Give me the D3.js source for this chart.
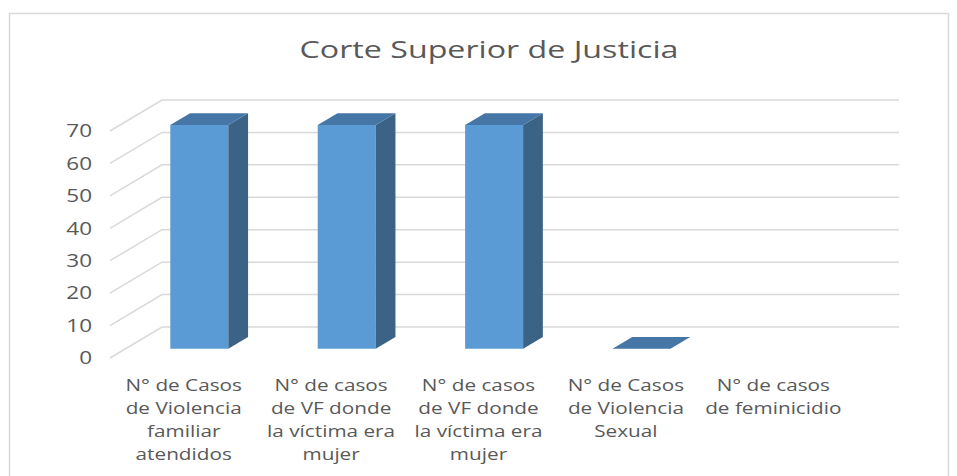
<!DOCTYPE html>
<html>
<head>
<meta charset="utf-8">
<script src="https://cdn.jsdelivr.net/npm/d3@7"></script>
<style>
  body { margin: 0; background: #fff; }
  text { font-family: "Open Sans", sans-serif; fill: #595959; }
</style>
</head>
<body>
<svg id="chart" width="957" height="476"></svg>
<script>
// data
const title = "Corte Superior de Justicia";
const categories = [
    ["N° de Casos", "de Violencia", "familiar", "atendidos"],
    ["N° de casos", "de VF donde", "la víctima era", "mujer"],
    ["N° de casos", "de VF donde", "la víctima era", "mujer"],
    ["N° de Casos", "de Violencia", "Sexual"],
    ["N° de casos", "de feminicidio"]
];
const values = [69, 69, 69, 0, null];
const yTicks = [0, 10, 20, 30, 40, 50, 60, 70];

const svg = d3.select("#chart");

// chart frame
svg.append("rect")
    .attr("x", 9.5).attr("y", 13.5)
    .attr("width", 939).attr("height", 480)
    .attr("fill", "#fff")
    .attr("stroke", "#d9d9d9")
    .attr("stroke-width", 1.5);

// the source text is drawn a bit wide, so stretch horizontally
svg.append("text")
    .attr("transform", "translate(489,58) scale(1.4,1)")
    .attr("text-anchor", "middle")
    .style("font-size", "23px")
    .text(title);

// fake 3d: depth shifts right and up
const depthX = 52, depthY = -31;
const zFront = 0.3, zBack = 0.68;

const x = d3.scaleBand()
    .domain(d3.range(categories.length))
    .range([110, 847]);

const y = d3.scaleLinear()
    .domain([0, 70])
    .range([358, 131]);

const proj = (px, v, z) => [px + z * depthX, y(v) + z * depthY];

// gridlines on back wall + side wall
const grid = svg.append("g")
    .attr("stroke", "#d9d9d9")
    .attr("stroke-width", 1.5)
    .attr("fill", "none");

yTicks.forEach(t => {
    const a = proj(110, t, 0), b = proj(110, t, 1), c = proj(847, t, 1);
    grid.append("polyline")
        .attr("points", [a, b, c].map(p => p.join(",")).join(" "));
});

// y tick labels
svg.append("g")
    .selectAll("text")
    .data(yTicks)
    .join("text")
    .attr("transform", d => `translate(92,${y(d)}) scale(1.25,1)`)
    .attr("dy", "0.35em")
    .attr("text-anchor", "end")
    .style("font-size", "18px")
    .text(d => d);

// bars
const barW = 58;
const colFront = "#5b9bd5", colSide = "#3b6386", colTop = "#4676a5";
const bars = svg.append("g")
    .selectAll("g")
    .data(values.map((v, i) => ({ v, i })).filter(d => d.v !== null))
    .join("g");

const pts = arr => arr.map(p => p.join(",")).join(" ");

bars.each(function(d) {
    const g = d3.select(this);
    const cx = x(d.i) + x.bandwidth() / 2;
    const xl = cx - barW / 2, xr = cx + barW / 2;
    // front face
    g.append("polygon")
        .attr("fill", colFront)
        .attr("points", pts([proj(xl, 0, zFront), proj(xr, 0, zFront), proj(xr, d.v, zFront), proj(xl, d.v, zFront)]));
    // side face
    g.append("polygon")
        .attr("fill", colSide)
        .attr("points", pts([proj(xr, 0, zFront), proj(xr, 0, zBack), proj(xr, d.v, zBack), proj(xr, d.v, zFront)]));
    // top face
    g.append("polygon")
        .attr("fill", colTop)
        .attr("points", pts([proj(xl, d.v, zFront), proj(xr, d.v, zFront), proj(xr, d.v, zBack), proj(xl, d.v, zBack)]));
});

// category labels
const labels = svg.append("g")
    .selectAll("text")
    .data(categories)
    .join("text")
    .attr("text-anchor", "middle")
    .style("font-size", "17px")
    .attr("transform", (d, i) => `translate(${x(i) + x.bandwidth() / 2},391) scale(1.22,1)`);

labels.selectAll("tspan")
    .data(d => d)
    .join("tspan")
    .attr("x", 0)
    .attr("y", (d, j) => j * 23)
    .text(d => d);
</script>
</body>
</html>
